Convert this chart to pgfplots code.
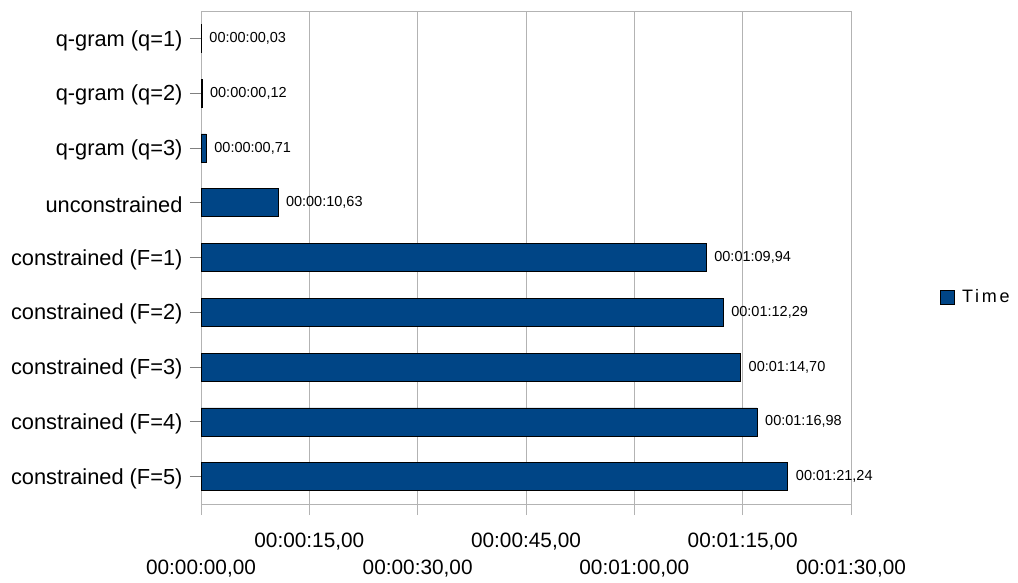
\documentclass[border=0pt]{standalone}
\usepackage{fontspec}
\setmainfont{Liberation Sans}
\newfontfamily\legendfont[LetterSpace=15]{Liberation Sans}
\usepackage{pgfplots}
\pgfplotsset{compat=1.18}
\definecolor{barblue}{HTML}{004586}
\definecolor{gridgray}{HTML}{B3B3B3}
\begin{document}
\begin{tikzpicture}
\useasboundingbox (0,0) rectangle (1018pt,583pt);
\begin{axis}[
  at={(201pt,79pt)}, anchor=south west,
  scale only axis, width=650pt, height=493pt,
  xbar, bar width=28pt,
  xmin=0, xmax=90, ymin=-0.5, ymax=8.5,
  y dir=reverse,
  ytick={0,...,8},
  yticklabels={{q-gram (q=1)},{q-gram (q=2)},{q-gram (q=3)},{unconstrained},{constrained (F=1)},{constrained (F=2)},{constrained (F=3)},{constrained (F=4)},{constrained (F=5)}},
  xtick={0,15,...,90},
  xticklabels={{00:00:00,00},{00:00:15,00},{00:00:30,00},{00:00:45,00},{00:01:00,00},{00:01:15,00},{00:01:30,00}},
  xticklabel style={font=\fontsize{20.8}{24}\selectfont, yshift={(-14-27*(1-mod(\ticknum,2)))*1pt}},
  yticklabel style={font=\fontsize{21.8}{24}\selectfont, xshift=-4pt, yshift=-2pt},
  tick align=outside, major tick length=11pt,
  x tick style={gridgray, line width=0.8pt},
  y tick style={gray, line width=0.8pt},
  xmajorgrids, grid style={gridgray, line width=0.8pt},
  axis line style={gridgray, line width=0.8pt},
  tick pos=left,
  point meta=explicit symbolic,
  nodes near coords,
  nodes near coords style={anchor=west, inner sep=0pt, xshift=8pt, font=\fontsize{14.5}{16}\selectfont, black},
  legend style={at={(axis description cs:1.136,0.42)}, anchor=west, draw=none, fill=none, font=\legendfont\fontsize{18}{20}\selectfont, inner sep=0pt},
  legend image code/.code={\draw[#1, draw=black, line width=0.5pt] (0pt,-7pt) rectangle (14pt,7pt);},
]
\addplot[fill=barblue, draw=black, line width=0.5pt] table[x=t, y=c, meta=lab] {
t c lab
0.03 0 00:00:00,03
0.12 1 00:00:00,12
0.71 2 00:00:00,71
10.63 3 00:00:10,63
69.94 4 00:01:09,94
72.29 5 00:01:12,29
74.70 6 00:01:14,70
76.98 7 00:01:16,98
81.24 8 00:01:21,24
};
\addlegendentry{\hspace{6pt}Time}
\end{axis}
\end{tikzpicture}
\end{document}
